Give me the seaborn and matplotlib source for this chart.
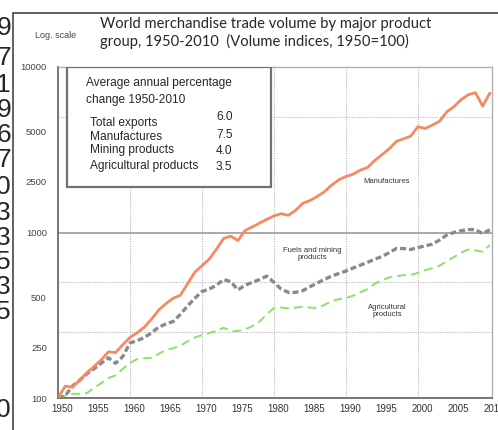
import matplotlib
matplotlib.use("Agg")
import matplotlib.pyplot as plt
import seaborn as sns
from matplotlib.patches import Rectangle
from matplotlib.lines import Line2D
from matplotlib.transforms import ScaledTranslation
from matplotlib.ticker import (FixedLocator, FixedFormatter, MultipleLocator,
                               NullFormatter, NullLocator)

# Volume indices, 1950=100
years = list(range(1950, 2011))
manufactures = [
    100, 118, 116, 128, 142, 155, 170, 190, 188, 210,
    232, 248, 268, 300, 340, 372, 400, 418, 490, 575,
    630, 690, 790, 920, 950, 895, 1030, 1080, 1140, 1200,
    1260, 1300, 1270, 1360, 1500, 1560, 1650, 1760, 1930, 2080,
    2180, 2250, 2380, 2470, 2720, 2950, 3200, 3550, 3680, 3820,
    4360, 4250, 4450, 4700, 5350, 5750, 6350, 6800, 7000, 5800,
    6950,
]
fuels_mining = [
    100, 103, 118, 128, 140, 150, 162, 175, 162, 178,
    215, 222, 232, 248, 268, 280, 290, 320, 360, 400,
    440, 455, 480, 520, 505, 450, 480, 500, 520, 545,
    500, 455, 435, 435, 445, 470, 495, 520, 545, 565,
    585, 610, 635, 660, 690, 715, 755, 800, 800, 790,
    810, 830, 850, 900, 965, 1000, 1025, 1042, 1040, 985,
    1040,
]
agricultural = [
    100, 103, 106, 106, 107, 115, 123, 132, 137, 150,
    163, 172, 174, 175, 185, 195, 200, 207, 220, 232,
    240, 247, 255, 266, 254, 254, 260, 272, 290, 320,
    350, 352, 348, 352, 356, 352, 350, 365, 385, 395,
    402, 415, 435, 455, 490, 515, 535, 545, 552, 555,
    570, 592, 608, 630, 670, 710, 755, 790, 780, 765,
    840,
]

y_ticks = [100, 250, 500, 1000, 2500, 5000, 10000]
dotted_levels = [250, 500, 5000]
solid_level = 1000
decade_lines = [1960, 1970, 1980, 1990, 2000]

box_labels = ["Total exports", "Manufactures", "Mining products", "Agricultural products"]
box_values = ["6.0", "7.5", "4.0", "3.5"]

# cut-off digits from the neighbouring panel on the left
side_digits = ["9", "7", "1", "9", "6", "7", "0", "3", "3", "5", "3", "5"]
side_last = "0"

title = ("World merchandise trade volume by major product\n"
         "group, 1950-2010  (Volume indices, 1950=100)")

sns.set_style("white")
plt.rcParams["font.family"] = ["Liberation Sans", "DejaVu Sans"]
narrow = ["Liberation Sans Narrow", "Liberation Sans", "DejaVu Sans"]

W, H = 498, 430
fig = plt.figure(figsize=(W / 100, H / 100), dpi=100)
ax = fig.add_axes([58 / W, 1 - 398 / H, 434 / W, 331 / H])

# grid lines behind the series
for lv in dotted_levels:
    ax.axhline(lv, color="#b5b5b5", lw=0.8, ls=(0, (1, 1.2)), zorder=0)
ax.axhline(solid_level, color="#9a9a9a", lw=1.2, zorder=0)
for yr in decade_lines:
    ax.axvline(yr, color="#b5b5b5", lw=0.8, ls=(0, (1, 1.2)), zorder=0)

sns.lineplot(x=years, y=agricultural, ax=ax, color="#8be26a", lw=1.4,
             linestyle=(0, (4.5, 2.6)), zorder=3)
sns.lineplot(x=years, y=fuels_mining, ax=ax, color="#8a8a8a", lw=2.4,
             linestyle=(0, (1.8, 0.9)), zorder=3)
sns.lineplot(x=years, y=manufactures, ax=ax, color="#f58a5f", lw=2.0, zorder=4)

ax.set_yscale("log")
ax.set_ylim(100, 10000)
ax.set_xlim(1950, 2010.3)
ax.yaxis.set_major_locator(FixedLocator(y_ticks))
ax.yaxis.set_major_formatter(FixedFormatter([str(t) for t in y_ticks]))
ax.yaxis.set_minor_locator(NullLocator())
ax.yaxis.set_minor_formatter(NullFormatter())
ax.xaxis.set_major_locator(MultipleLocator(5))
ax.xaxis.set_minor_locator(MultipleLocator(1))

ax.tick_params(axis="x", which="major", direction="in", length=5, width=0.8,
               color="#555555", labelsize=7, labelcolor="#333333", pad=4)
ax.tick_params(axis="x", which="minor", direction="in", length=3.5, width=0.8,
               color="#555555")
ax.tick_params(axis="y", which="major", direction="in", length=0, pad=8,
               labelsize=6.8, labelcolor="#444444")
for lab in ax.get_xticklabels() + ax.get_yticklabels():
    lab.set_family(narrow)

# the scanned chart has its labels nudged: x labels a bit right,
# the in-between y labels a bit lower than their grid lines
for tick in ax.xaxis.get_major_ticks():
    tick.label1.set_transform(tick.label1.get_transform()
                              + ScaledTranslation(4 / 100, 0, fig.dpi_scale_trans))
for tick, val in zip(ax.yaxis.get_major_ticks(), y_ticks):
    if val in (250, 500, 2500, 5000):
        tick.label1.set_transform(tick.label1.get_transform()
                                  + ScaledTranslation(0, -15 / 100, fig.dpi_scale_trans))

for side in ["left", "bottom"]:
    ax.spines[side].set_color("#6a6a6a")
    ax.spines[side].set_linewidth(1.3)
for side in ["top", "right"]:
    ax.spines[side].set_color("#b0b0b0")
    ax.spines[side].set_linewidth(1.0)
ax.set_xlabel("")
ax.set_ylabel("")

# inset box with average growth rates
ax.add_patch(Rectangle((0.021, 0.637), 0.47, 0.363, transform=ax.transAxes,
                       facecolor="white", edgecolor="#707070", lw=1.6, zorder=6))
ax.text(0.0645, 0.952, "Average annual percentage", transform=ax.transAxes,
        fontsize=8.6, va="center", ha="left", zorder=7)
ax.text(0.0645, 0.900, "change 1950-2010", transform=ax.transAxes,
        fontsize=8.6, va="center", ha="left", zorder=7)
label_y = [0.831, 0.789, 0.749, 0.701]
value_y = [0.849, 0.795, 0.746, 0.698]
for name, val, ly, vy in zip(box_labels, box_values, label_y, value_y):
    ax.text(0.074, ly, name, transform=ax.transAxes, fontsize=8.6,
            va="center", ha="left", zorder=7)
    ax.text(0.364, vy, val, transform=ax.transAxes, fontsize=8.6,
            va="center", ha="left", zorder=7)

# series labels
ax.text(1995.7, 2047, "Manufactures", fontsize=5.5, family=narrow,
        ha="center", va="center", color="#333333")
ax.text(1985.3, 742, "Fuels and mining\nproducts", fontsize=5.5, family=narrow,
        ha="center", va="center", color="#333333", linespacing=1.1)
ax.text(1995.8, 336, "Agricultural\nproducts", fontsize=5.5, family=narrow,
        ha="center", va="center", color="#333333", linespacing=1.1)

# texts above the plot
fig.text(35 / W, 1 - 35 / H, "Log. scale", fontsize=6.5, family=narrow,
         color="#444444", va="center", ha="left")
fig.text(100 / W, 1 - 33 / H, title, fontsize=10.6, family=["Lato", "DejaVu Sans"],
         va="center", ha="left", linespacing=1.3)

# outer frame lines
fig.add_artist(Line2D([13 / W, 13 / W], [0, 1 - 13 / H], transform=fig.transFigure,
                      color="#555555", lw=1.3))
fig.add_artist(Line2D([13 / W, 1], [1 - 13 / H, 1 - 13 / H], transform=fig.transFigure,
                      color="#555555", lw=1.3))

digit_y = [28, 58, 85, 110, 135, 160, 187, 213, 238, 262, 287, 312]
for d, py in zip(side_digits, digit_y):
    fig.text(11 / W, 1 - py / H, d, fontsize=19, ha="right", va="center")
fig.text(11 / W, 1 - 410 / H, side_last, fontsize=19, ha="right", va="center")

fig.savefig("out.png", dpi=100)
